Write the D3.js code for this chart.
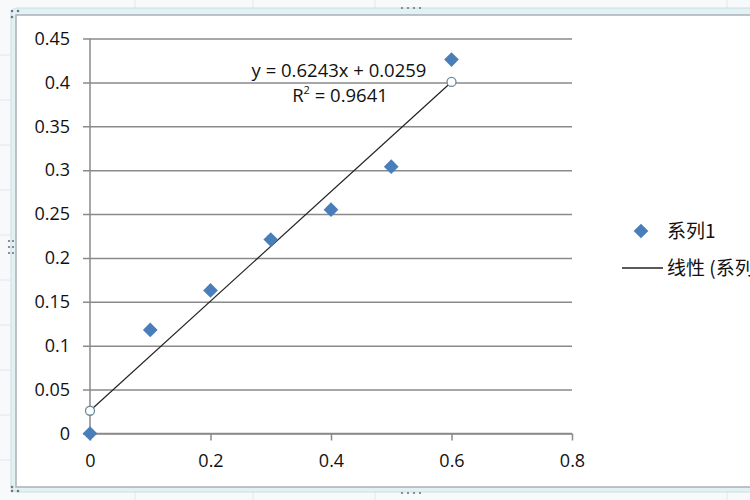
<!DOCTYPE html>
<html><head><meta charset="utf-8">
<script src="https://cdn.jsdelivr.net/npm/d3@7"></script>
<style>body{margin:0;background:#fff}svg{display:block}</style>
</head><body>
<script>
const xValues = [0, 0.1, 0.2, 0.3, 0.4, 0.5, 0.6];
const yValues = [0, 0.118, 0.163, 0.221, 0.255, 0.304, 0.426];
const yTicks = [0, 0.05, 0.1, 0.15, 0.2, 0.25, 0.3, 0.35, 0.4, 0.45];
const xTicks = [0, 0.2, 0.4, 0.6, 0.8];
const slope = 0.6243, intercept = 0.0259;
const eqLabel = "y = 0.6243x + 0.0259";
const r2Value = "0.9641";
const legendSeries = "系列1";
const legendTrend = "线性 (系列1)";

const W = 750, H = 500;
const svg = d3.select("body").append("svg").attr("width", W).attr("height", H);
const font = "'Open Sans','Liberation Sans',sans-serif";
const cjk = "'Noto Sans CJK SC','Open Sans',sans-serif";

// spreadsheet background
svg.append("rect").attr("width", W).attr("height", H).attr("fill", "#f7f9fa");
[135, 253, 375, 727].forEach(x => svg.append("line").attr("x1", x).attr("x2", x).attr("y1", 0).attr("y2", H).attr("stroke", "#e4e8ea"));
[55, 100, 145, 190, 235, 280, 325, 370, 415, 460].forEach(y => svg.append("line").attr("x1", 0).attr("x2", 10).attr("y1", y).attr("y2", y).attr("stroke", "#e4e8ea"));
// chart frame band
svg.append("rect").attr("x", 11).attr("y", 8).attr("width", W + 20).attr("height", 484).attr("rx", 6)
  .attr("fill", "#e3f1f4").attr("stroke", "#c9dfe5").attr("stroke-width", 1);
svg.append("rect").attr("x", 16).attr("y", 15).attr("width", W + 20).attr("height", 472)
  .attr("fill", "#fff").attr("stroke", "#a9b1b5").attr("stroke-width", 1.5);
// handle dots
const dots = svg.append("g").attr("fill", "#6c7880");
[402, 408, 414, 420].forEach(x => { dots.append("circle").attr("cx", x).attr("cy", 8).attr("r", 1.1); dots.append("circle").attr("cx", x).attr("cy", 493).attr("r", 1.1); });
[241, 247, 253].forEach(y => { dots.append("circle").attr("cx", 9).attr("cy", y).attr("r", 1.1); dots.append("circle").attr("cx", 13).attr("cy", y).attr("r", 1.1); });
[[12, 11], [18, 11], [12, 17], [12, 487], [18, 491], [12, 491]].forEach(p => dots.append("circle").attr("cx", p[0]).attr("cy", p[1]).attr("r", 1.3));

const x = d3.scaleLinear().domain([0, 0.8]).range([90, 572]);
const y = d3.scaleLinear().domain([0, 0.45]).range([433.5, 38.5]);

// gridlines + y labels
const yAxis = svg.append("g").attr("transform", "translate(90,0)")
  .call(d3.axisLeft(y).tickValues(yTicks).tickSize(-(572 - 90)).tickPadding(20).tickFormat(d => d3.format("")(+d.toFixed(2))));
yAxis.select(".domain").remove();
yAxis.selectAll(".tick line").attr("stroke", "#8a8a8a").attr("stroke-width", 1.5).attr("x1", -7);
yAxis.selectAll(".tick text").attr("font-family", font).attr("font-size", 18).attr("fill", "#111").attr("x", -20);

// y axis line
svg.append("line").attr("x1", 90).attr("x2", 90).attr("y1", y(0.45)).attr("y2", y(0)).attr("stroke", "#8a8a8a").attr("stroke-width", 1.5);

// x axis
const xAxis = svg.append("g").attr("transform", `translate(0,${y(0)})`)
  .call(d3.axisBottom(x).tickValues(xTicks).tickSize(7).tickPadding(14).tickFormat(d => d3.format("")(+d.toFixed(1))));
xAxis.select(".domain").attr("stroke", "#8a8a8a").attr("stroke-width", 1.5).attr("d", `M${x(0)},0H${x(0.8)}`);
xAxis.selectAll(".tick line").attr("stroke", "#8a8a8a").attr("stroke-width", 1.5);
xAxis.selectAll(".tick text").attr("font-family", font).attr("font-size", 18).attr("fill", "#111");

// trendline
const tx = [0, 0.6];
svg.append("line").attr("x1", x(tx[0])).attr("y1", y(slope * tx[0] + intercept))
  .attr("x2", x(tx[1])).attr("y2", y(slope * tx[1] + intercept)).attr("stroke", "#222").attr("stroke-width", 1.2);

// points
const diamond = d3.symbol().type(d3.symbolSquare).size(108);
svg.append("g").selectAll("path").data(xValues.map((v, i) => [v, yValues[i]])).join("path")
  .attr("d", diamond).attr("transform", d => `translate(${x(d[0])},${y(d[1])}) rotate(45)`)
  .attr("fill", "#4a7ebb");

// trendline end markers
svg.append("g").selectAll("circle").data(tx).join("circle")
  .attr("cx", d => x(d)).attr("cy", d => y(slope * d + intercept)).attr("r", 4.5)
  .attr("fill", "#fff").attr("stroke", "#6d8a9c").attr("stroke-width", 1.3);

// equation label
svg.append("text").attr("x", 339).attr("y", 77).attr("text-anchor", "middle")
  .attr("font-family", font).attr("font-size", 18.5).attr("fill", "#111").text(eqLabel);
const r2 = svg.append("text").attr("x", 340).attr("y", 102).attr("text-anchor", "middle")
  .attr("font-family", font).attr("font-size", 18.5).attr("fill", "#111");
r2.append("tspan").text("R");
r2.append("tspan").attr("font-size", 11).attr("dy", -8).text("2");
r2.append("tspan").attr("dy", 8).text(" = " + r2Value);

// legend
svg.append("path").attr("d", diamond).attr("transform", "translate(641,231) rotate(45)").attr("fill", "#4a7ebb");
svg.append("text").attr("x", 667).attr("y", 238).attr("font-family", cjk).attr("font-size", 19).attr("fill", "#111").text(legendSeries);
svg.append("line").attr("x1", 622).attr("x2", 663).attr("y1", 268).attr("y2", 268).attr("stroke", "#222").attr("stroke-width", 1.5);
svg.append("text").attr("x", 667).attr("y", 275).attr("font-family", cjk).attr("font-size", 19).attr("fill", "#111").text(legendTrend);
</script>
</body></html>
